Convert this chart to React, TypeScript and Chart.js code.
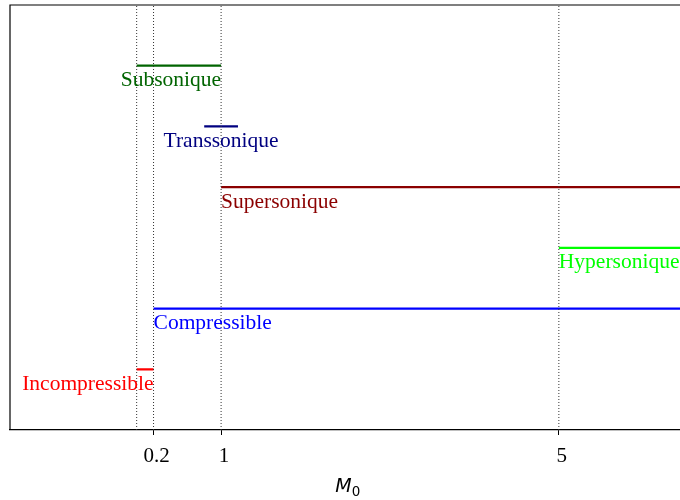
import React, { useEffect, useRef } from "react";
import { Chart, registerables } from "chart.js";

Chart.register(...registerables);

// Regime names, rows, extents (Mach number) and colours
const regimes = ["Subsonique", "Transsonique", "Supersonique", "Hypersonique", "Compressible", "Incompressible"];
const rows = [6, 5, 4, 3, 2, 1];
const starts = [0, 0.8, 1, 5, 0.2, 0];
const ends = [1, 1.2, 7, 7, 7, 0.2];
const colors = ["#006400", "#000080", "#8b0000", "#00ff00", "#0000ff", "#ff0000"];
// Label anchors
const labelX = [1, 1, 1, 5, 0.2, 0.2];
const labelAlign = ["right", "center", "left", "left", "left", "right"];
// Dotted reference lines
const refLines = [0, 0.2, 1, 5];
// Axis
const tickValues = [0.2, 1, 5];
const tickLabels = ["0.2", "1", "5"];
const xMin = -1.5;
const xMax = 6.5;
const yMin = 0;
const yMax = 7;

const SERIF = "'Liberation Serif', 'DejaVu Serif', serif";

const overlay = {
  id: "overlay",
  afterDatasetsDraw(chart: any) {
    const { ctx, chartArea, scales } = chart;
    const xs = scales.x;
    const ys = scales.y;
    ctx.save();
    // frame: left + top
    ctx.strokeStyle = "#000";
    ctx.lineWidth = 1.2;
    ctx.beginPath();
    ctx.moveTo(chartArea.left, chartArea.bottom);
    ctx.lineTo(chartArea.left, chartArea.top);
    ctx.lineTo(chartArea.right, chartArea.top);
    ctx.stroke();
    // labels
    ctx.font = `21.5px ${SERIF}`;
    ctx.textBaseline = "alphabetic";
    regimes.forEach((name, i) => {
      ctx.fillStyle = colors[i];
      ctx.textAlign = labelAlign[i] as CanvasTextAlign;
      ctx.fillText(name, xs.getPixelForValue(labelX[i]), ys.getPixelForValue(rows[i]) + 20.5);
    });
    // x title M_0
    const cx = (xs.getPixelForValue(xMin) + xs.getPixelForValue(xMax)) / 2;
    ctx.fillStyle = "#000";
    ctx.textAlign = "left";
    ctx.font = `italic 19px 'DejaVu Sans', sans-serif`;
    const mW = ctx.measureText("M").width;
    ctx.font = `13.5px 'DejaVu Sans', sans-serif`;
    const zW = ctx.measureText("0").width;
    const start = cx - (mW + zW) / 2;
    ctx.font = `italic 19px 'DejaVu Sans', sans-serif`;
    ctx.fillText("M", start, 492);
    ctx.font = `13.5px 'DejaVu Sans', sans-serif`;
    ctx.fillText("0", start + mW, 496);
    ctx.restore();
  },
};

export default function App() {
  const ref = useRef<HTMLCanvasElement>(null);
  useEffect(() => {
    if (!ref.current) return;
    const datasets: any[] = [];
    refLines.forEach((v) => {
      datasets.push({
        data: [
          { x: v, y: yMin },
          { x: v, y: yMax },
        ],
        borderColor: "#333",
        borderWidth: 1,
        borderDash: [1, 2],
        pointRadius: 0,
        fill: false,
      });
    });
    regimes.forEach((name, i) => {
      datasets.push({
        label: name,
        data: [
          { x: starts[i], y: rows[i] },
          { x: ends[i], y: rows[i] },
        ],
        borderColor: colors[i],
        borderWidth: 2.2,
        pointRadius: 0,
        fill: false,
      });
    });
    const chart = new Chart(ref.current, {
      type: "line",
      data: { datasets },
      plugins: [overlay],
      options: {
        animation: false,
        responsive: false,
        maintainAspectRatio: false,
        layout: { padding: { left: 10, top: 5, right: 4.5, bottom: 0 } },
        plugins: { legend: { display: false }, tooltip: { enabled: false } },
        scales: {
          x: {
            type: "linear",
            min: xMin,
            max: xMax,
            afterBuildTicks: (s: any) => {
              s.ticks = tickValues.map((v) => ({ value: v }));
            },
            afterFit: (s: any) => {
              s.height = 70;
            },
            ticks: {
              autoSkip: false,
              maxRotation: 0,
              color: "#000",
              font: { family: SERIF, size: 21 },
              padding: 9,
              labelOffset: 3,
              callback: (v: any) => {
                const idx = tickValues.indexOf(Number(v));
                return idx >= 0 ? tickLabels[idx] : "";
              },
            },
            grid: {
              display: true,
              drawOnChartArea: false,
              drawTicks: true,
              tickLength: 5,
              tickWidth: 1,
              color: "#000",
            },
            border: { display: true, color: "#000", width: 1.2 },
          },
          y: {
            type: "linear",
            min: yMin,
            max: yMax,
            display: false,
          },
        },
      },
    });
    return () => chart.destroy();
  }, []);
  return (
    <div style={{ position: "absolute", top: 0, left: 0, width: 680, height: 500, overflow: "hidden", background: "#fff" }}>
      <canvas ref={ref} width={690} height={500} style={{ width: 690, height: 500, display: "block" }} />
    </div>
  );
}
